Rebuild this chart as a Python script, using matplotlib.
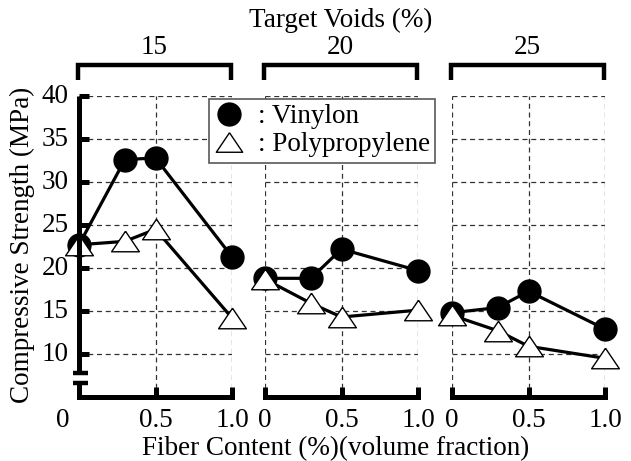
import matplotlib
matplotlib.use("Agg")
import matplotlib.pyplot as plt
import matplotlib.transforms as mtransforms
from matplotlib.lines import Line2D
import numpy as np

plt.rcParams['font.family'] = ['Liberation Serif', 'DejaVu Serif']
plt.rcParams['mathtext.fontset'] = 'stix'

voids = ["15", "20", "25"]
fiber = [0, 0.3, 0.5, 1.0]
vinylon = [
    [22.7, 32.6, 32.8, 21.3],
    [18.8, 18.8, 22.2, 19.7],
    [14.8, 15.4, 17.3, 12.9],
]
polypropylene = [
    [22.7, 23.1, 24.5, 14.2],
    [18.7, 15.9, 14.3, 15.1],
    [14.5, 12.7, 10.9, 9.5],
]
yticks = [10, 15, 20, 25, 30, 35, 40]
xticks = [0, 0.5, 1.0]
xticklabels = ["0", "0.5", "1.0"]

FS = 19.5
W, H = 631, 461
DPI = 100
fig = plt.figure(figsize=(W / DPI, H / DPI), dpi=DPI)

tri = [(0, 0.74), (-1, -0.74), (1, -0.74), (0, 0.74)]

lefts = [79, 265, 452]
pw = 153
bottom_px, top_px = 397, 96
ymin, ymax = 5, 40

def fx(px):
    return px / W

def fy(py):
    return 1 - py / H

axes = []
for i, lp in enumerate(lefts):
    ax = fig.add_axes([fx(lp), fy(bottom_px), pw / W, (bottom_px - top_px) / H])
    axes.append(ax)
    ax.set_xlim(0, 1.0)
    ax.set_ylim(ymin, ymax)
    for s in ["top", "right", "left"]:
        ax.spines[s].set_visible(False)
    ax.spines["bottom"].set_linewidth(3.6)
    ax.spines["bottom"].set_capstyle("projecting")
    # grid
    for yv in yticks:
        ax.axhline(yv, color="0.2", lw=0.9, ls=(0, (4, 3)), zorder=1)
    for xv in (xticks if i > 0 else xticks[1:]):
        ax.axvline(xv, color="0.2", lw=0.9, ls=(0, (4, 3)), zorder=1)
    # x ticks upward
    ax.set_xticks(xticks)
    ax.set_xticklabels(xticklabels, fontsize=FS)
    ax.tick_params(axis="x", direction="in", length=7, width=3.6, pad=8, color="black")
    if i == 0:
        ax.xaxis.get_major_ticks()[0].tick1line.set_visible(False)
        lab = ax.get_xticklabels()[0]
        lab.set_transform(lab.get_transform() + mtransforms.ScaledTranslation(-12 / 72, 0, fig.dpi_scale_trans))
    ax.set_yticks([])
    ax.plot(fiber, vinylon[i], color="black", lw=2.3, marker="o", ms=16.5,
            mfc="black", mec="black", clip_on=False, zorder=5)
    ax.plot(fiber, polypropylene[i], color="black", lw=2.3, marker=tri, ms=20,
            mfc="white", mec="black", mew=1.0, clip_on=False, zorder=6)

# y-axis of first panel with break
ax0 = axes[0]
tr = mtransforms.blended_transform_factory(ax0.transAxes, ax0.transData)
y_brk_hi, y_brk_lo = 7.8, 6.65
ax0.plot([0, 0], [y_brk_hi, ymax], color="black", lw=3.6, transform=tr, clip_on=False,
         solid_capstyle="butt", zorder=7)
ax0.plot([0, 0], [ymin, y_brk_lo], color="black", lw=3.6, transform=tr, clip_on=False,
         solid_capstyle="butt", zorder=7)
for yb in (y_brk_hi, y_brk_lo):
    ax0.plot([-6 / pw, 9 / pw], [yb, yb], color="black", lw=3.2, transform=tr, clip_on=False,
             solid_capstyle="butt", zorder=7)
for yv in yticks:
    ax0.plot([0, 10 / pw], [yv, yv], color="black", lw=3.6, transform=tr, clip_on=False,
             solid_capstyle="butt", zorder=7)
    ax0.text(-10 / pw, yv, str(yv), transform=tr, ha="right", va="center", fontsize=FS)

# brackets on top
for i, lp in enumerate(lefts):
    x0, x1 = fx(lp - 1), fx(lp - 1 + pw)
    yt, yb = fy(65), fy(80)
    fig.add_artist(Line2D([x0, x0, x1, x1], [yb, yt, yt, yb], color="black", lw=3.2,
                          solid_joinstyle="miter", solid_capstyle="butt"))
    fig.text((x0 + x1) / 2, fy(47), voids[i], ha="center", va="center", fontsize=FS)

fig.text(fx(341), fy(20), "Target Voids (%)", ha="center", va="center", fontsize=FS)
fig.text(fx(336), fy(455), "Fiber Content (%)(volume fraction)", ha="center", va="baseline", fontsize=FS)
fig.text(fx(22), fy(245), "Compressive Strength (MPa)", ha="center", va="center",
         rotation=90, fontsize=FS)

handles = [
    Line2D([], [], ls="none", marker="o", ms=16.5, mfc="black", mec="black"),
    Line2D([], [], ls="none", marker=tri, ms=19, mfc="white", mec="black", mew=1.0),
]
leg = fig.legend(handles, [": Vinylon", ": Polypropylene"], loc="upper left",
                 bbox_to_anchor=(fx(209), fy(99)), borderaxespad=0, fancybox=False,
                 edgecolor="0.35", framealpha=1, fontsize=FS, handlelength=1.1,
                 handletextpad=0.5, borderpad=0.2, labelspacing=0.1)
leg.get_frame().set_linewidth(1.2)

fig.savefig("out.png", dpi=DPI)
